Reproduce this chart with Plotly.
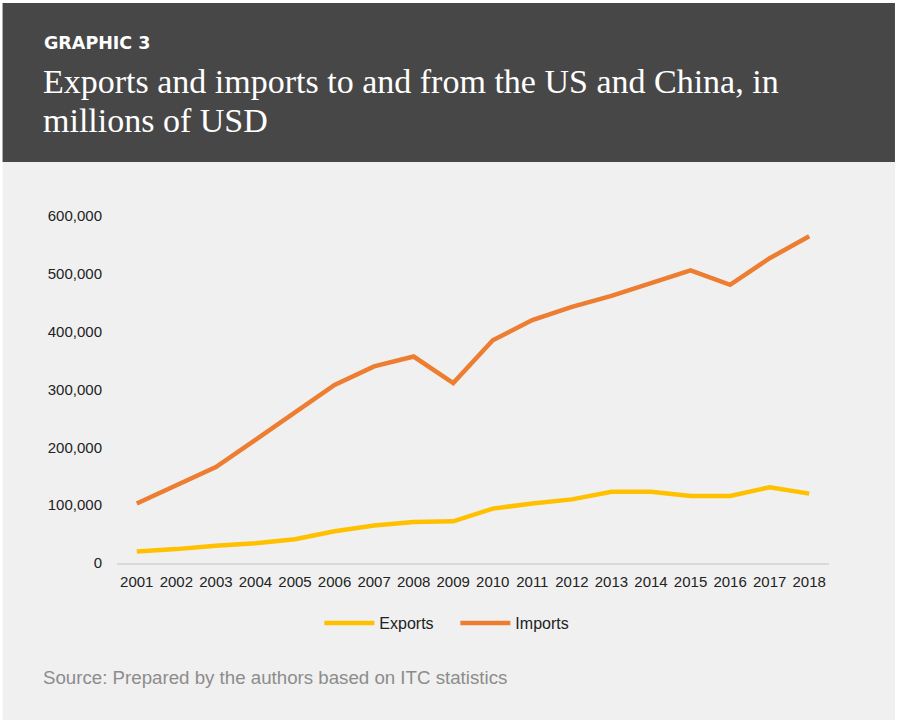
import plotly.graph_objects as go

years = ["2001", "2002", "2003", "2004", "2005", "2006", "2007", "2008", "2009",
         "2010", "2011", "2012", "2013", "2014", "2015", "2016", "2017", "2018"]
exports = [20000, 24000, 30000, 34000, 41000, 55000, 65000, 71000, 72000,
           94000, 103000, 110000, 123000, 123000, 116000, 116000, 131000, 120000]
imports = [103000, 134000, 166000, 213000, 261000, 308000, 340000, 357000, 311000,
           385000, 420000, 443000, 462000, 485000, 506000, 481000, 527000, 565000]
y_ticks = [0, 100000, 200000, 300000, 400000, 500000, 600000]
y_labels = ["0", "100,000", "200,000", "300,000", "400,000", "500,000", "600,000"]

W_PX, H_PX = 897, 720
L, R, T, B = 116.5, 68, 216, 157
PW = W_PX - L - R
PH = H_PX - T - B


def px(x):
    return (x - L) / PW


def py(y):
    return (H_PX - B - y) / PH


fig = go.Figure()
fig.add_trace(go.Scatter(x=years, y=exports, name="Exports", mode="lines",
                         line=dict(color="#FFC000", width=4.5)))
fig.add_trace(go.Scatter(x=years, y=imports, name="Imports", mode="lines",
                         line=dict(color="#ED7D31", width=4.5)))

shapes = [
    dict(type="rect", xref="paper", yref="paper", x0=px(2), x1=px(895),
         y0=py(720), y1=py(3), fillcolor="#f0f0f0", line=dict(width=0), layer="below"),
    dict(type="rect", xref="paper", yref="paper", x0=px(2), x1=px(895),
         y0=py(162), y1=py(3), fillcolor="#474747", line=dict(width=0), layer="below"),
]

annotations = [
    dict(text="<b>GRAPHIC 3</b>", xref="paper", yref="paper", x=px(41), y=py(43),
         xanchor="left", yanchor="middle", showarrow=False,
         font=dict(family="DejaVu Sans", size=17.5, color="#ffffff")),
    dict(text="Exports and imports to and from the US and China, in",
         xref="paper", yref="paper", x=px(40), y=py(81), xanchor="left", yanchor="middle",
         align="left", showarrow=False,
         font=dict(family="Liberation Serif", size=34, color="#ffffff")),
    dict(text="millions of USD",
         xref="paper", yref="paper", x=px(40), y=py(120), xanchor="left", yanchor="middle",
         align="left", showarrow=False,
         font=dict(family="Liberation Serif", size=34, color="#ffffff")),
    dict(text="Source: Prepared by the authors based on ITC statistics",
         xref="paper", yref="paper", x=px(40), y=py(677), xanchor="left", yanchor="middle",
         showarrow=False, font=dict(family="Liberation Sans, Arial", size=18.7, color="#8c8c8c")),
]

fig.update_layout(
    width=W_PX, height=H_PX,
    margin=dict(l=L, r=R, t=T, b=B),
    paper_bgcolor="#ffffff", plot_bgcolor="rgba(0,0,0,0)",
    shapes=shapes, annotations=annotations,
    font=dict(family="Liberation Sans, Arial", size=15, color="#222222"),
    showlegend=True,
    legend=dict(orientation="h", x=px(319), y=py(623), xanchor="left", yanchor="middle",
                font=dict(size=16, color="#222222"), bgcolor="rgba(0,0,0,0)",
                itemwidth=50, entrywidth=71, entrywidthmode="pixels"),
    xaxis=dict(type="category", range=[-0.5, 17.5], showgrid=False, showline=True,
               linecolor="#d9d9d9", linewidth=2, ticks="", ticklabelstandoff=4,
               tickfont=dict(size=15, color="#222222"), zeroline=False, fixedrange=True),
    yaxis=dict(range=[0, 600000], tickvals=y_ticks, ticktext=y_labels, showgrid=False,
               showline=False, zeroline=False, ticks="", ticklabelstandoff=14,
               tickfont=dict(size=15, color="#222222"), fixedrange=True),
)

fig.write_html("out.html", config={"displayModeBar": False})
